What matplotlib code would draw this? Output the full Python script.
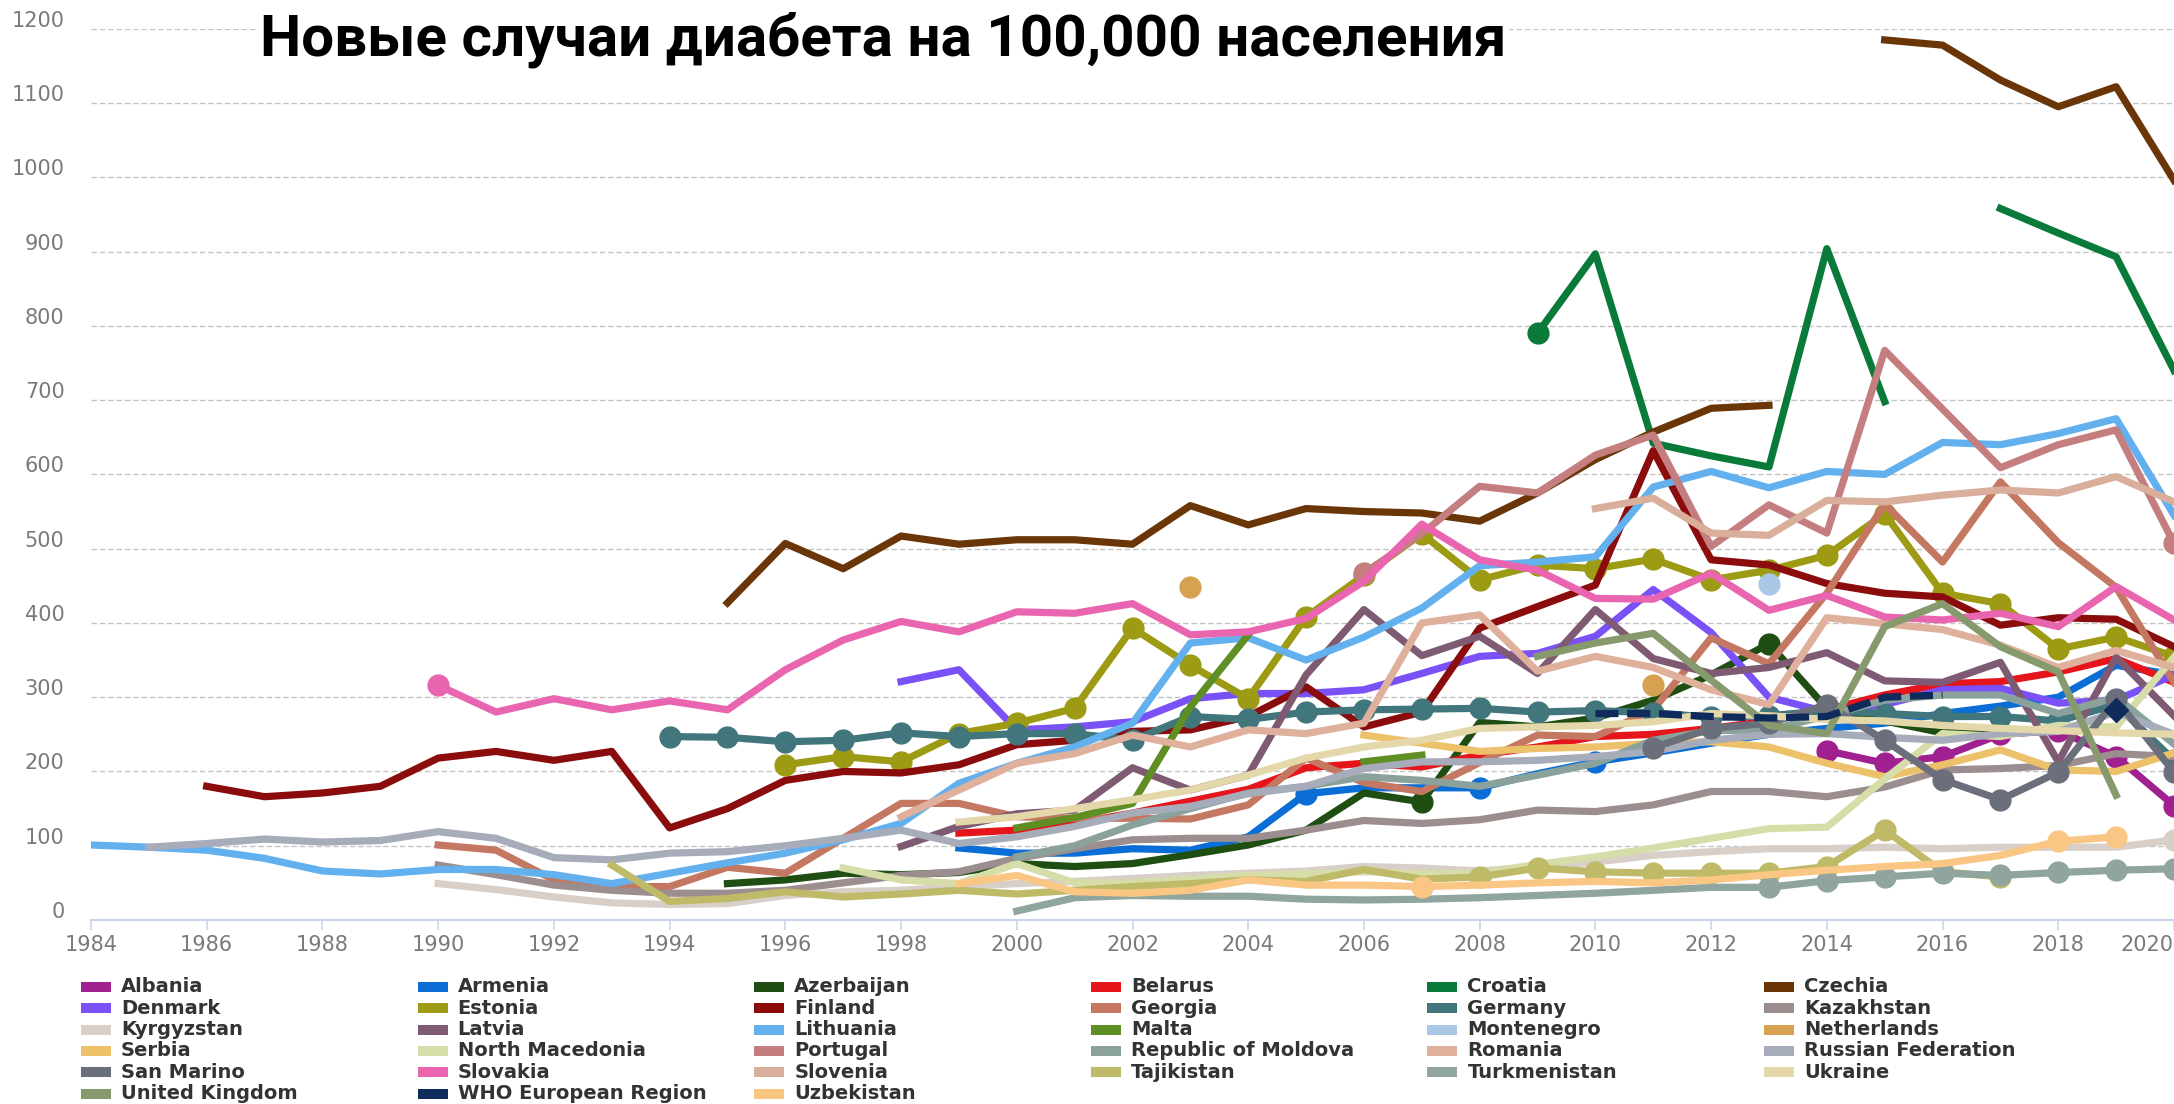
import numpy as np
import matplotlib
matplotlib.use("Agg")
import matplotlib.pyplot as plt
from matplotlib.patches import Rectangle
from matplotlib.transforms import ScaledTranslation

# data: (first year, values per year), None = no data
albania = (2014, [228, 211, 220, 250, 255, 220, 154])
armenia = (1999, [97, 90, 90, 96, 94, 112, 170, 178, 178, 178, 197, 213, 225, 238, 250, 258, 265, 278, 288, 300, 343, 330])
azerbaijan = (1995, [49, 54, 63, 61, 64, 76, 72, 76, 88, 101, 121, 171, 159, 266, 260, 272, 296, 330, 372, 285, 268, 252, 255])
belarus = (1999, [117, 121, 130, 144, 160, 176, 205, 211, 206, 222, 233, 247, 250, 258, 268, 283, 303, 318, 321, 334, 352, 320])
croatia = (2009, [790, 897, 642, 625, 610, 904, 698, None, 958, 925, 893, 740])
czechia = (1995, [427, 507, 473, 517, 506, 512, 512, 506, 558, 532, 554, 550, 548, 537, 575, 620, 657, 689, 693, None,
                  1185, 1178, 1131, 1095, 1122, 996])
denmark = (1998, [321, 337, 256, 260, 267, 298, 305, 305, 310, 332, 355, 359, 382, 445, 387, 300, 280, 290, 310, 312, 292, 296, 330])
estonia = (1996, [209, 220, 213, 251, 265, 285, 393, 343, 298, 408, 464, 520, 458, 478, 473, 486, 458, 471, 491, 547, 440, 426, 365, 381, 355])
finland = (1986, [180, 166, 171, 180, 218, 227, 215, 227, 124, 150, 188, 200, 198, 209, 236, 242, 254, 256, 274, 314,
                  260, 280, 393, 422, 451, 632, 485, 478, 453, 440, 435, 397, 407, 405, 368])
georgia = (1990, [101, 94, 54, 45, 45, 71, 63, 110, 157, 157, 139, 137, 137, 136, 155, 218, 185, 173, 212, 249, 247, 283,
                  380, 345, 440, 560, 482, 590, 508, 448, 320])
germany = (1994, [247, 246, 240, 242, 252, 247, 251, 251, 242, 274, 270, 280, 283, 284, 285, 280, 282, 279, 273, 275, 282,
                  278, 274, 274, 268, 290, 215])
kazakhstan = (1990, [74, 61, 47, 40, 36, 36, 40, 50, 60, 65, 83, 96, 108, 110, 110, 121, 134, 130, 135, 148, 146, 155, 173,
                     173, 166, 179, 202, 204, 208, 224, 220])
kyrgyzstan = (1990, [49, 41, 31, 23, 21, 22, 33, 38, 40, 45, 49, 52, 56, 60, 63, 66, 72, 70, 66, 72, 78, 87, 92, 96, 96, 98,
                     96, 98, 98, 98, 108])
latvia = (1998, [99, 126, 143, 148, 205, 175, 195, 330, 418, 356, 382, 332, 418, 352, 332, 340, 360, 322, 320, 347, 213, 354, 275])
lithuania = (1984, [101, 98, 94, 83, 66, 62, 68, 68, 61, 49, 63, 77, 90, 108, 130, 184, 211, 233, 265, 373, 380, 350, 381,
                    420, 477, 482, 489, 583, 604, 582, 604, 600, 643, 640, 655, 675, 545])
malta = (2000, [124, 138, 157, 287, 384, None, 213, 222])
montenegro = (2013, [453])
netherlands = (2003, [449, None, None, None, None, None, None, None, 316])
serbia = (2006, [249, 238, 227, 231, 233, 238, 240, 233, 211, 193, 209, 229, 202, 200, 225])
north_macedonia = (1997, [70, 54, 49, 76, 50, 50, 55, 60, 62, 65, 62, 63, 75, 85, 97, 110, 123, 125, 190, 251, 247, 262, 260, 354])
portugal = (2006, [467, 520, 584, 575, 626, 653, 503, 559, 521, 767, 688, 609, 640, 660, 507])
moldova = (2000, [85, 100, 128, 150, 171, 180, 193, 188, 180, 195, 211, 242, 255, 256, 275, 296, 303, 303, 278, 300, 237])
romania = (1998, [139, 175, 211, 224, 249, 233, 256, 251, 265, 400, 411, 335, 355, 340, 310, 290, 407, 399, 391, 370, 340, 363, 340])
russia = (1985, [98, 103, 109, 105, 107, 119, 110, 84, 81, 90, 92, 100, 110, 121, 103, 112, 126, 144, 153, 170, 180, 204,
                 213, 213, 215, 220, 227, 242, 250, 251, 246, 242, 251, 254, 280, 250])
san_marino = (2011, [232, 258, 265, 290, 242, 189, 162, 199, 297, 199])
slovakia = (1990, [316, 280, 298, 283, 295, 283, 337, 377, 402, 388, 415, 413, 426, 384, 388, 406, 456, 533, 485, 471, 433,
                   432, 467, 417, 437, 408, 404, 413, 395, 449, 404])
slovenia = (2010, [554, 568, 521, 518, 565, 563, 572, 579, 575, 597, 563])
tajikistan = (1993, [74, 25, 29, 38, 31, 35, 40, 35, 40, 45, 49, 54, 52, 68, 55, 58, 70, 65, 63, 63, 63, 72, 121, 65, 58])
turkmenistan = (2000, [12, 30, 33, 32, 32, 28, 27, 28, 30, 33, 36, 40, 44, 44, 53, 58, 63, 60, 64, 67, 69])
ukraine = (1999, [132, 139, 150, 162, 175, 195, 218, 233, 242, 258, 260, 262, 267, 278, 275, 270, 268, 262, 258, 255, 252, 250])
united_kingdom = (2009, [355, 373, 386, 323, 262, 251, 395, 426, 368, 334, 168])
who_europe = (2010, [278, 278, 274, 272, 274, 300, 303, None, None, 283])
uzbekistan = (1999, [49, 60, 38, 36, 40, 54, 47, 47, 45, 47, 50, 52, 50, 54, 61, 67, 72, 76, 87, 106, 112])

series = [
    ("Albania", albania, "#a0208f"),
    ("Armenia", armenia, "#0a6ed6"),
    ("Azerbaijan", azerbaijan, "#1f4e12"),
    ("Belarus", belarus, "#e6141b"),
    ("Croatia", croatia, "#0a7a3a"),
    ("Czechia", czechia, "#6a3608"),
    ("Denmark", denmark, "#7a50f7"),
    ("Estonia", estonia, "#9d9b14"),
    ("Finland", finland, "#8a0c0c"),
    ("Georgia", georgia, "#c47862"),
    ("Germany", germany, "#42767d"),
    ("Kazakhstan", kazakhstan, "#9c8e8e"),
    ("Kyrgyzstan", kyrgyzstan, "#d8d0c8"),
    ("Latvia", latvia, "#7e5b73"),
    ("Lithuania", lithuania, "#63b0ee"),
    ("Malta", malta, "#5e8e24"),
    ("Montenegro", montenegro, "#aac8e6"),
    ("Netherlands", netherlands, "#d6a150"),
    ("Serbia", serbia, "#edc06a"),
    ("North Macedonia", north_macedonia, "#d6dda8"),
    ("Portugal", portugal, "#c57e80"),
    ("Republic of Moldova", moldova, "#8aa29b"),
    ("Romania", romania, "#dfb09c"),
    ("Russian Federation", russia, "#a7acba"),
    ("San Marino", san_marino, "#6b6f7b"),
    ("Slovakia", slovakia, "#e965b0"),
    ("Slovenia", slovenia, "#d9ae9a"),
    ("Tajikistan", tajikistan, "#bfba68"),
    ("Turkmenistan", turkmenistan, "#8fa59d"),
    ("Ukraine", ukraine, "#e4d8aa"),
    ("United Kingdom", united_kingdom, "#879a6e"),
    ("WHO European Region", who_europe, "#0e2b5c"),
    ("Uzbekistan", uzbekistan, "#f9c684"),
]

# which points carry a marker (None = every point)
markers = {
    "Albania": None, "Germany": None, "Estonia": None, "San Marino": None,
    "Slovakia": [1990], "Croatia": [2009], "Netherlands": [2003, 2011],
    "Montenegro": [2013], "Portugal": [2006, 2020], "Azerbaijan": [2007, 2013],
    "Armenia": [2005, 2008, 2010], "Uzbekistan": [2007, 2018, 2019],
    "Kyrgyzstan": [2020], "WHO European Region": [2019],
    "Tajikistan": list(range(2008, 2018)), "Turkmenistan": list(range(2013, 2021)),
}

W, H = 2174, 1104
fig = plt.figure(figsize=(W / 100, H / 100), dpi=100)
ax = fig.add_axes([91 / W, 1 - 920 / H, 1 - 91 / W, (920 - 28.8) / H])

for i, (name, (start, vals), color) in enumerate(series):
    years = np.arange(start, start + len(vals))
    y = np.array([np.nan if v is None else v for v in vals], dtype=float)
    ls = (0, (3.2, 1.2)) if name == "WHO European Region" else "-"
    ax.plot(years, y, color=color, lw=5.2, ls=ls, solid_joinstyle="round",
            dash_joinstyle="round", zorder=3 + i * 0.01)
    if name in markers:
        sel = markers[name]
        mask = np.ones(len(years), bool) if sel is None else np.isin(years, sel)
        mk = "D" if name == "WHO European Region" else "o"
        ax.plot(years[mask], y[mask], ls="none", marker=mk, ms=15 if mk == "o" else 12,
                color=color, mec=color, zorder=3 + i * 0.01)

ax.set_xlim(1984, 2020)
ax.set_ylim(0, 1200)

for s in ["top", "right", "left"]:
    ax.spines[s].set_visible(False)
ax.spines["bottom"].set_color("#ccd6eb")
ax.spines["bottom"].set_linewidth(1.5)

ax.set_yticks(range(0, 1300, 100))
ax.set_yticklabels([str(v) for v in range(0, 1300, 100)])
ax.grid(axis="y", color="#c4c4c4", lw=1.0, ls=(0, (4, 2)), zorder=1)
ax.yaxis.get_gridlines()[0].set_visible(False)
ax.tick_params(axis="y", length=0, pad=19, labelsize=15, labelcolor="#7a7a7a")
for lab in ax.get_yticklabels():
    lab.set_transform(lab.get_transform() + ScaledTranslation(0, 0.10, fig.dpi_scale_trans))

xt = list(range(1984, 2021, 2))
ax.set_xticks(xt)
ax.set_xticklabels([str(v) for v in xt])
ax.tick_params(axis="x", length=7, width=1.2, color="#ccd6eb", pad=4, labelsize=15, labelcolor="#7a7a7a")
ax.get_xticklabels()[-1].set_ha("right")

fig.text(260 / W, 1 - 55 / H, "Новые случаи диабета на 100,000 населения", fontsize=42,
         fontweight="bold", family="Roboto", color="black", va="baseline", ha="left",
         bbox=dict(facecolor="white", edgecolor="none", pad=2))

# legend laid out as in the reference: 6 columns, row by row
for k, (name, _, color) in enumerate(series):
    row, col = divmod(k, 6)
    x0 = 81 + 336.6 * col
    yc = 987 + 21.3 * row
    fig.patches.append(Rectangle((x0 / W, 1 - (yc + 5) / H), 30 / W, 10 / H, transform=fig.transFigure,
                                 facecolor=color, edgecolor="none"))
    fig.text((x0 + 40) / W, 1 - yc / H, name, fontsize=14, fontweight="bold", color="#333333",
             va="center", ha="left")

fig.savefig("out.png", dpi=100, facecolor="white")
